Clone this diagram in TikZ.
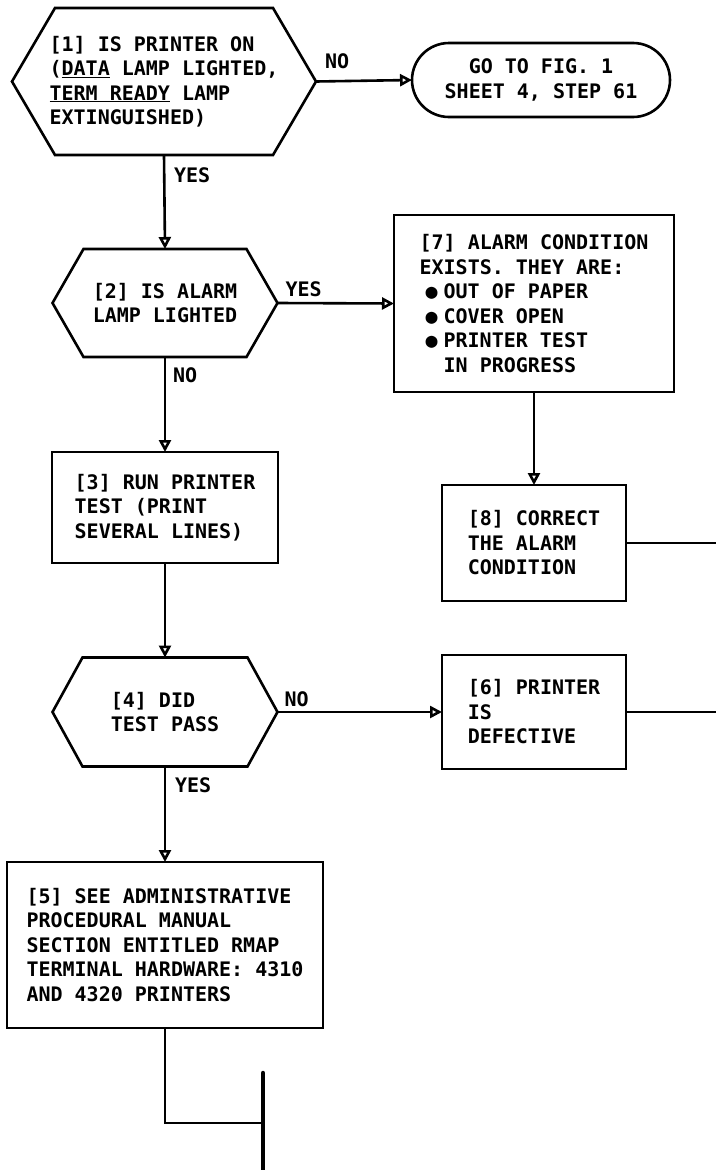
\documentclass[tikz,border=0pt]{standalone}
\usepackage{fontspec}
\setmonofont{DejaVu Sans Mono}
\usetikzlibrary{arrows.meta}
\newcommand{\hexa}[2]{\draw[conn] (#1.west) -- ([xshift=#2]#1.north west) -- ([xshift=-#2]#1.north east) -- (#1.east) -- ([xshift=-#2]#1.south east) -- ([xshift=#2]#1.south west) -- cycle;}
\newcommand{\bul}{\makebox[24pt][c]{●}}

\begin{document}
\begin{tikzpicture}[x=1pt,y=-1pt,>={Triangle[open,length=12pt,width=12pt]},
  every node/.style={font=\ttfamily\bfseries\fontsize{20}{24.5}\selectfont,inner sep=0pt,outer sep=0pt},
  conn/.style={line width=2.6pt},
  dec/.style={align=left},
  box/.style={draw,line width=2.6pt,align=left},
  term/.style={draw,line width=2.6pt,rounded corners=37pt,align=center},
  lbl/.style={}]
\useasboundingbox (0,0) rectangle (715,1170);

% decisions
\node[dec,minimum width=304pt,minimum height=147pt] (q1) at (164,81.5) {[1] IS PRINTER ON\\(\underline{DATA} LAMP LIGHTED,\\\underline{TERM READY} LAMP\\EXTINGUISHED)};
\node[dec,minimum width=225pt,minimum height=108pt] (q2) at (165,303) {[2] IS ALARM\\LAMP LIGHTED};
\node[dec,minimum width=225pt,minimum height=109pt] (q4) at (165,712) {[4] DID\\TEST PASS};
\hexa{q1}{43pt}
\hexa{q2}{31pt}
\hexa{q4}{30pt}

% boxes
\node[term,minimum width=258pt,minimum height=74pt] (go) at (541,80) {GO TO FIG. 1\\SHEET 4, STEP 61};
\node[box,minimum width=280pt,minimum height=177pt] (a7) at (534,303.5) {[7] ALARM CONDITION\\EXISTS. THEY ARE:\\\bul OUT OF PAPER\\\bul COVER OPEN\\\bul PRINTER TEST\\\phantom{XX}IN PROGRESS};
\node[box,minimum width=226pt,minimum height=111pt] (q3) at (165,507.5) {[3] RUN PRINTER\\TEST (PRINT\\SEVERAL LINES)};
\node[box,minimum width=184pt,minimum height=116pt] (c8) at (534,543) {[8] CORRECT\\THE ALARM\\CONDITION};
\node[box,minimum width=184pt,minimum height=114pt] (d6) at (534,712) {[6] PRINTER\\IS\\DEFECTIVE};
\node[box,minimum width=316pt,minimum height=166pt] (s5) at (165,945) {[5] SEE ADMINISTRATIVE\\PROCEDURAL MANUAL\\SECTION ENTITLED RMAP\\TERMINAL HARDWARE: 4310\\AND 4320 PRINTERS};

\coordinate (e8) at (716,543);
\coordinate (e6) at (716,712);
\coordinate (j5) at (263,1123);
\coordinate (bt) at (263,1073);
\coordinate (bb) at (263,1172);

% connectors
\draw[conn,->] (q1.east) -- (go.west) node[lbl,at start,anchor=south west,xshift=9pt,yshift=13pt] {NO};
\draw[conn,->] (q1.south) -- (q2.north) node[lbl,at start,anchor=north west,xshift=10pt,yshift=-13pt] {YES};
\draw[conn,->] (q2.east) -- (a7.west) node[lbl,at start,anchor=south west,xshift=8pt,yshift=6pt] {YES};
\draw[conn,->] (q2.south) -- (q3.north) node[lbl,at start,anchor=north west,xshift=8pt,yshift=-11pt] {NO};
\draw[conn,->] (a7.south) -- (c8.north);
\draw[conn] (c8.east) -- (e8);
\draw[conn,->] (q3.south) -- (q4.north);
\draw[conn,->] (q4.east) -- (d6.west) node[lbl,at start,anchor=south west,xshift=7pt,yshift=5pt] {NO};
\draw[conn] (d6.east) -- (e6);
\draw[conn,->] (q4.south) -- (s5.north) node[lbl,at start,anchor=north west,xshift=10pt,yshift=-11pt] {YES};
\draw[conn] (s5.south) |- (j5);
\draw[line width=4.5pt,line cap=round] (bt) -- (bb);
\end{tikzpicture}
\end{document}
